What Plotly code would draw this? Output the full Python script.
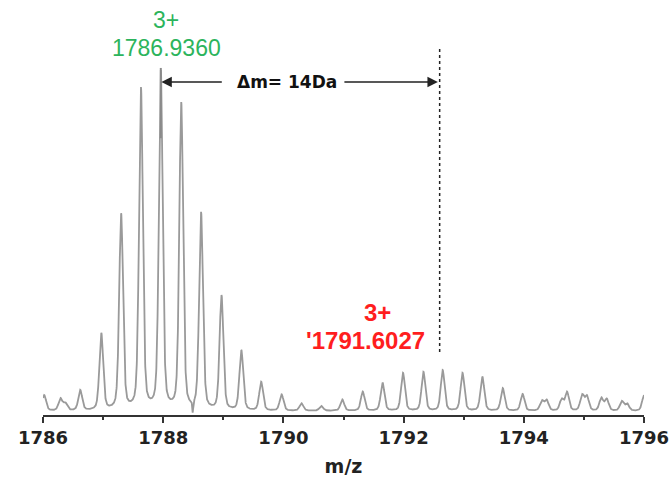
import numpy as np
import plotly.graph_objects as go

# Centroid list of the isotope envelope (m/z, relative intensity %)
peak_mz = [1786.02, 1786.29, 1786.37, 1786.62, 1786.97, 1787.30, 1787.63, 1787.96,
           1788.30, 1788.63, 1788.97, 1789.30, 1789.63, 1789.97, 1790.30, 1790.63,
           1790.98, 1791.32, 1791.65, 1791.99, 1792.33, 1792.65, 1792.98, 1793.31,
           1793.65, 1793.98, 1794.30, 1794.38, 1794.63, 1794.72, 1794.97, 1795.05,
           1795.29, 1795.38, 1795.63, 1795.72, 1796.00]
peak_int = [4.7, 3.8, 2.6, 6.2, 22.9, 58.0, 95.0, 100.0,
            90.6, 58.4, 34.0, 17.9, 8.6, 4.9, 2.3, 1.5,
            3.4, 5.7, 8.3, 11.2, 11.5, 12.0, 11.2, 10.1,
            6.7, 5.0, 3.2, 3.4, 3.7, 5.7, 5.0, 4.7,
            4.0, 3.7, 3.0, 2.3, 4.7]

# Baseline dip between isotopes (m/z, level it falls to)
dip_mz = [1788.49]
dip_level = [-0.5]

tick_vals = [1786, 1788, 1790, 1792, 1794, 1796]
tick_text = ["1786", "1788", "1790", "1792", "1794", "1796"]

label_a = ["3+", "1786.9360"]
label_b = ["3+", "'1791.6027"]
delta_text = "Δm= 14Da"
mono_a_line = 1787.96
mono_b_line = 1792.60

# Profile spectrum: pseudo-Voigt line shape, amplitudes solved so the
# profile passes through each centroid intensity
fwhm = 0.075
eta = 0.35
sigma = fwhm / 2.3548
hw2 = (fwhm / 2) ** 2


def shape(d):
    return eta * hw2 / (d ** 2 + hw2) + (1 - eta) * np.exp(-0.5 * (d / sigma) ** 2)


c = np.array(peak_mz)
h = np.array(peak_int)
amp = np.linalg.solve(shape(c[:, None] - c[None, :]), h)


def envelope(x):
    x = np.atleast_1d(x)
    return (amp[None, :] * shape(x[:, None] - c[None, :])).sum(axis=1)


mz = np.linspace(1786.0, 1796.0, 5001)
profile = envelope(mz)
for dm, lvl in zip(dip_mz, dip_level):
    depth = lvl - envelope(dm)[0]
    profile += depth * np.exp(-0.5 * ((mz - dm) / 0.008) ** 2)

fig = go.Figure()
fig.add_trace(go.Scatter(x=mz, y=profile, mode="lines",
                         line=dict(color="#9a9a9a", width=1.8),
                         hoverinfo="skip", showlegend=False))

# marker lines
fig.add_shape(type="line", x0=mono_a_line, x1=mono_a_line, y0=80, y1=100.6,
              line=dict(color="#8a8a8a", width=2))
fig.add_shape(type="line", x0=mono_b_line, x1=mono_b_line, y0=17.3, y1=106.2,
              line=dict(color="#222222", width=1.5, dash="dot"))

# Δm arrows
arrow_y = 96.5
for tail, head in [(1789.00, 1787.97), (1790.99, 1792.57)]:
    fig.add_annotation(x=head, y=arrow_y, ax=tail, ay=arrow_y,
                       xref="x", yref="y", axref="x", ayref="y",
                       text="", showarrow=True, arrowhead=2, arrowsize=1.3,
                       arrowwidth=1.6, arrowcolor="#222222")
fig.add_annotation(x=1790.06, y=arrow_y, text=delta_text, showarrow=False,
                   font=dict(family="DejaVu Sans", size=17, color="#111111", weight="bold"))

green = "#2cb45c"
red = "#ff1e1e"
fig.add_annotation(x=1788.05, y=114.7, text=label_a[0], showarrow=False,
                   font=dict(family="Liberation Sans", size=23, color=green))
fig.add_annotation(x=1788.05, y=106.4, text=label_a[1], showarrow=False,
                   font=dict(family="Liberation Sans", size=23, color=green))
fig.add_annotation(x=1791.57, y=29.0, text=label_b[0], showarrow=False,
                   font=dict(family="Liberation Sans", size=24, color=red, weight="bold"))
fig.add_annotation(x=1791.36, y=20.8, text=label_b[1], showarrow=False,
                   font=dict(family="Liberation Sans", size=24, color=red, weight="bold"))

fig.update_layout(
    width=670, height=480,
    margin=dict(l=42.7, r=25.7, t=0, b=65, pad=0),
    paper_bgcolor="white", plot_bgcolor="white",
    showlegend=False,
    xaxis=dict(range=[1786, 1796], tickvals=tick_vals, ticktext=tick_text,
               ticks="outside", ticklen=6, tickwidth=1.5, tickcolor="#333333",
               showline=True, linecolor="#333333", linewidth=1.5,
               showgrid=False, zeroline=False,
               minor=dict(dtick=1, tick0=1786, ticks="outside", ticklen=3,
                          tickwidth=1.5, tickcolor="#333333", showgrid=False),
               tickfont=dict(family="DejaVu Sans", size=18, color="#222222", weight="bold"),
               title=dict(text="m/z", standoff=12,
                          font=dict(family="DejaVu Sans", size=19, color="#222222", weight="bold"))),
    yaxis=dict(range=[-1.173, 120.53], visible=False, showgrid=False, zeroline=False),
)

fig.write_html("out.html")
